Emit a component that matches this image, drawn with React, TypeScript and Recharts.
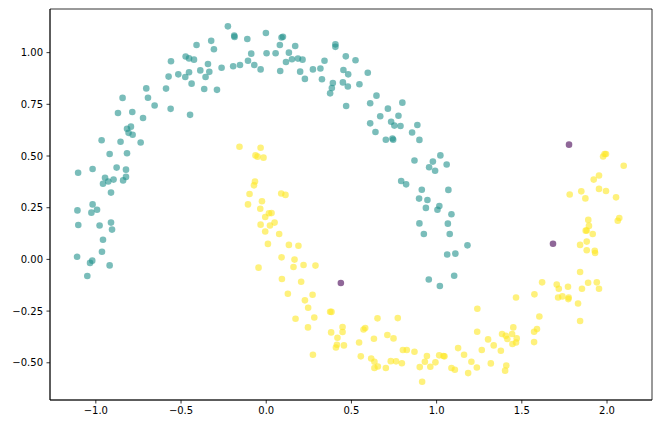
import React from "react";
import {
  ScatterChart,
  Scatter,
  XAxis,
  YAxis,
  ReferenceArea,
} from "recharts";

// cluster 1 (teal), upper moon
const tealPoints: [number, number][] = [
  [-0.409, 1.037], [-0.473, 0.981], [-0.453, 0.972], [-0.424, 0.966], [-0.559, 0.958],
  [-0.387, 0.914], [-0.453, 0.905], [-0.516, 0.895], [-0.475, 0.882], [-0.573, 0.884],
  [-0.438, 0.85], [-0.704, 0.827], [-0.588, 0.826], [-0.843, 0.781], [-0.694, 0.782],
  [-0.655, 0.744], [-0.561, 0.728], [-0.87, 0.708], [-0.786, 0.713], [-0.723, 0.684],
  [-0.447, 0.699], [-0.794, 0.642], [-0.817, 0.632], [-0.808, 0.612], [-0.784, 0.603],
  [-0.966, 0.576], [-0.855, 0.569], [-0.737, 0.565], [-0.919, 0.51], [-0.817, 0.513],
  [-1.104, 0.419], [-1.019, 0.437], [-0.878, 0.444], [-0.823, 0.434], [-0.946, 0.395],
  [-0.927, 0.377], [-0.958, 0.366], [-0.896, 0.386], [-0.823, 0.399], [-0.84, 0.382],
  [-0.911, 0.323], [-1.019, 0.266], [-1.108, 0.237], [-0.993, 0.24], [-1.026, 0.226],
  [-1.103, 0.166], [-0.978, 0.164], [-0.911, 0.178], [-0.905, 0.144], [-0.958, 0.095],
  [-0.964, 0.037], [-1.11, 0.013], [-1.021, -0.006], [-1.034, -0.017], [-0.919, -0.029],
  [-1.05, -0.08], [-0.225, 1.127], [-0.188, 1.082], [-0.186, 1.076], [-0.002, 1.095],
  [-0.111, 1.066], [-0.323, 1.057], [-0.307, 1.016], [0.09, 1.073], [0.098, 1.077],
  [0.08, 1.037], [0.17, 1.032], [0.406, 1.04], [0.406, 1.028], [-0.088, 0.995],
  [0.002, 0.997], [0.055, 0.997], [0.133, 1.0], [-0.342, 0.945], [-0.107, 0.961],
  [-0.07, 0.94], [-0.194, 0.934], [-0.154, 0.94], [-0.262, 0.927], [-0.033, 0.919],
  [0.116, 0.955], [0.151, 0.968], [0.186, 0.971], [0.213, 0.966], [0.342, 0.961],
  [-0.334, 0.907], [-0.356, 0.882], [-0.364, 0.824], [-0.289, 0.82], [0.082, 0.911],
  [0.199, 0.908], [0.227, 0.873], [0.274, 0.919], [0.318, 0.923], [0.327, 0.871],
  [0.391, 0.853], [0.385, 0.829], [0.375, 0.803], [0.467, 0.982], [0.524, 0.963],
  [0.453, 0.916], [0.481, 0.895], [0.596, 0.903], [0.45, 0.856], [0.479, 0.836],
  [0.547, 0.847], [0.647, 0.792], [0.61, 0.755], [0.799, 0.758], [0.469, 0.742],
  [0.714, 0.729], [0.669, 0.692], [0.776, 0.695], [0.733, 0.666], [0.752, 0.647],
  [0.788, 0.645], [0.887, 0.65], [0.61, 0.658], [0.641, 0.616], [0.856, 0.614],
  [0.702, 0.579], [0.741, 0.585], [0.745, 0.579], [0.899, 0.578], [0.87, 0.478],
  [1.022, 0.503], [0.978, 0.473], [0.956, 0.446], [0.991, 0.429], [1.059, 0.459],
  [0.792, 0.379], [0.821, 0.363], [0.913, 0.337], [1.069, 0.336], [0.897, 0.294],
  [0.946, 0.287], [0.937, 0.249], [1.016, 0.258], [1.005, 0.24], [1.087, 0.218],
  [0.899, 0.174], [1.066, 0.173], [0.925, 0.123], [1.077, 0.123], [1.181, 0.068],
  [1.062, 0.024], [1.11, 0.028], [1.103, -0.079], [0.954, -0.097], [1.019, -0.129],
];

// cluster 2 (yellow), lower moon
const yellowPoints: [number, number][] = [
  [-0.157, 0.545], [-0.033, 0.54], [-0.063, 0.503], [-0.051, 0.497], [-0.016, 0.492],
  [-0.066, 0.377], [-0.072, 0.358], [-0.098, 0.316], [-0.025, 0.281], [-0.107, 0.266],
  [-0.035, 0.245], [0.088, 0.319], [0.113, 0.312], [0.016, 0.223], [0.031, 0.224],
  [-0.006, 0.205], [0.049, 0.178], [-0.033, 0.168], [0.022, 0.164], [-0.006, 0.135],
  [0.076, 0.123], [0.01, 0.075], [0.133, 0.07], [0.189, 0.066], [0.09, 0.01],
  [0.166, -0.001], [0.219, -0.027], [0.289, -0.03], [0.16, -0.037], [-0.045, -0.04],
  [0.092, -0.095], [0.205, -0.108], [0.127, -0.166], [0.272, -0.171], [0.227, -0.198],
  [0.246, -0.234], [0.375, -0.253], [0.383, -0.254], [0.172, -0.287], [0.282, -0.281],
  [0.653, -0.285], [0.772, -0.284], [0.245, -0.329], [0.448, -0.327], [0.381, -0.353],
  [0.448, -0.351], [0.571, -0.339], [0.581, -0.332], [0.418, -0.379], [0.711, -0.366],
  [0.747, -0.382], [0.632, -0.384], [0.545, -0.402], [0.415, -0.413], [0.409, -0.426],
  [0.456, -0.416], [0.274, -0.461], [0.555, -0.469], [0.616, -0.479], [0.635, -0.495],
  [0.655, -0.518], [0.635, -0.525], [0.702, -0.525], [0.731, -0.492], [0.762, -0.493],
  [0.796, -0.502], [1.466, -0.184], [1.574, -0.169], [1.239, -0.239], [1.238, -0.35],
  [1.45, -0.329], [1.603, -0.276], [1.589, -0.337], [1.572, -0.35], [1.384, -0.361],
  [1.406, -0.369], [1.415, -0.385], [1.443, -0.361], [1.47, -0.382], [1.466, -0.402],
  [1.445, -0.409], [1.572, -0.4], [1.302, -0.387], [1.335, -0.416], [1.377, -0.442],
  [1.265, -0.438], [1.126, -0.429], [1.161, -0.461], [0.802, -0.438], [0.825, -0.438],
  [0.87, -0.447], [0.943, -0.467], [0.931, -0.495], [1.015, -0.464], [1.04, -0.467],
  [1.046, -0.469], [0.993, -0.498], [0.901, -0.521], [0.963, -0.519], [1.204, -0.495],
  [1.318, -0.503], [1.409, -0.513], [1.402, -0.538], [1.236, -0.523], [1.087, -0.525],
  [1.107, -0.534], [1.185, -0.55], [0.915, -0.592], [1.986, 0.51], [1.977, 0.498],
  [1.994, 0.51], [2.098, 0.453], [1.953, 0.406], [1.922, 0.386], [1.953, 0.341],
  [1.994, 0.331], [1.849, 0.329], [1.781, 0.314], [1.873, 0.295], [2.053, 0.3],
  [1.89, 0.191], [2.072, 0.2], [2.063, 0.187], [1.894, 0.162], [1.881, 0.14],
  [1.875, 0.139], [1.916, 0.123], [1.881, 0.086], [1.842, 0.07], [1.881, 0.044],
  [1.928, 0.042], [1.93, 0.031], [1.842, -0.061], [1.619, -0.111], [1.705, -0.122],
  [1.717, -0.142], [1.771, -0.132], [1.853, -0.142], [1.889, -0.113], [1.94, -0.111],
  [1.953, -0.142], [1.713, -0.184], [1.738, -0.179], [1.775, -0.184], [1.773, -0.192],
  [1.83, -0.213], [1.842, -0.298],
];

// cluster 0 (purple), outliers
const purplePoints: [number, number][] = [
  [0.438, -0.114], [1.777, 0.555], [1.683, 0.076],
];

const xTicks = [-1.0, -0.5, 0.0, 0.5, 1.0, 1.5, 2.0];
const yTicks = [-0.5, -0.25, 0.0, 0.25, 0.5, 0.75, 1.0];

const X_DOMAIN: [number, number] = [-1.269, 2.264];
const Y_DOMAIN: [number, number] = [-0.68, 1.211];

const toRows = (pts: [number, number][]) => pts.map(([x, y]) => ({ x, y }));

const fmt = (digits: number) => (v: number) => v.toFixed(digits).replace("-", "\u2212");

const dot = (color: string) => (props: any) =>
  <circle cx={props.cx} cy={props.cy} r={3.3} fill={color} fillOpacity={0.6} />;

const tickStyle = { fontSize: 10, fill: "#000", fontFamily: "DejaVu Sans" };

export default function App() {
  return (
    <div style={{ position: "absolute", left: 0, top: 0, background: "#fff" }}>
      <ScatterChart width={668} height={432} margin={{ top: 9, right: 16, left: 0, bottom: 0 }}>
        <XAxis
          type="number"
          dataKey="x"
          domain={X_DOMAIN}
          ticks={xTicks}
          tickFormatter={fmt(1)}
          allowDataOverflow
          height={32}
          tick={tickStyle}
          tickSize={3.5}
          tickMargin={3}
          stroke="#000"
          strokeWidth={0.8}
        />
        <YAxis
          type="number"
          dataKey="y"
          domain={Y_DOMAIN}
          ticks={yTicks}
          tickFormatter={fmt(2)}
          allowDataOverflow
          width={50}
          tick={tickStyle}
          tickSize={3.5}
          tickMargin={3.5}
          stroke="#000"
          strokeWidth={0.8}
        />
        <ReferenceArea
          x1={X_DOMAIN[0]}
          x2={X_DOMAIN[1]}
          y1={Y_DOMAIN[0]}
          y2={Y_DOMAIN[1]}
          fill="none"
          stroke="#000"
          strokeWidth={0.8}
          fillOpacity={0}
        />
        <Scatter data={toRows(tealPoints)} shape={dot("#21918c")} isAnimationActive={false} />
        <Scatter data={toRows(yellowPoints)} shape={dot("#fde725")} isAnimationActive={false} />
        <Scatter data={toRows(purplePoints)} shape={dot("#440154")} isAnimationActive={false} />
      </ScatterChart>
    </div>
  );
}
